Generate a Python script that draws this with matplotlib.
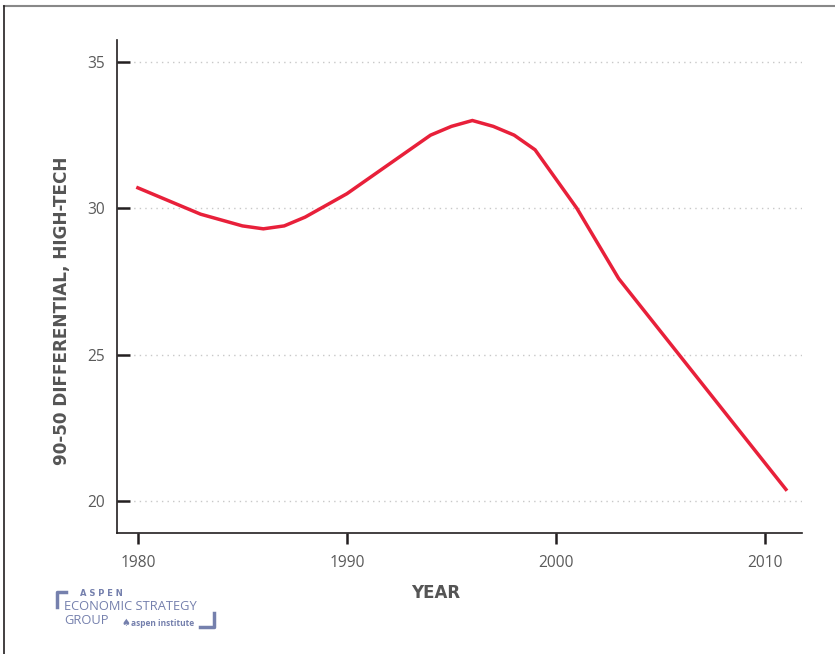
import matplotlib
matplotlib.use("Agg")
import matplotlib.pyplot as plt
from matplotlib.lines import Line2D

years = [1980, 1983, 1985, 1986, 1987, 1988, 1989, 1990, 1991, 1992, 1993, 1994,
         1995, 1996, 1997, 1998, 1999, 2000, 2001, 2003, 2011]
values = [30.7, 29.8, 29.4, 29.3, 29.4, 29.7, 30.1, 30.5, 31.0, 31.5, 32.0, 32.5,
          32.8, 33.0, 32.8, 32.5, 32.0, 31.0, 30.0, 27.6, 20.4]
x_ticks = [1980, 1990, 2000, 2010]
y_ticks = [20, 25, 30, 35]
x_label = "YEAR"
y_label = "90-50 DIFFERENTIAL, HIGH-TECH"

plt.rcParams['font.family'] = ['Open Sans', 'DejaVu Sans']

W, H = 835, 654
fig = plt.figure(figsize=(W / 100, H / 100), dpi=100)
ax = fig.add_axes([117 / W, 1 - 533 / H, (802 - 117) / W, (533 - 40) / H])

ax.plot(years, values, color="#e8203a", lw=2.5, solid_joinstyle="miter", zorder=3)

ax.set_xlim(1979.0, 2011.77)
ax.set_ylim(18.91, 35.75)
ax.set_xticks(x_ticks)
ax.set_yticks(y_ticks)
ax.yaxis.grid(True, color="#c8c8c8", linestyle=(0, (1, 3)), lw=1.0)
for s in ["top", "right"]:
    ax.spines[s].set_visible(False)
for s in ["left", "bottom"]:
    ax.spines[s].set_color("#231f20")
    ax.spines[s].set_linewidth(1.2)
ax.tick_params(axis="y", direction="in", length=9, width=1.8, color="#231f20",
               labelsize=11.2, labelcolor="#5a5a5a", pad=8.5)
ax.tick_params(axis="x", direction="out", length=8, width=1.8, color="#231f20",
               labelsize=11.2, labelcolor="#5a5a5a", pad=8)

fig.text(62 / W, 1 - 311 / H, y_label, rotation=90, ha="center", va="center",
         fontsize=12.2, fontweight="bold", color="#555555", family="DejaVu Sans")
fig.text(436 / W, 1 - 593 / H, x_label, ha="center", va="center",
         fontsize=12, fontweight="bold", color="#555555", family="DejaVu Sans")

# frame
fig.add_artist(Line2D([4 / W, 1], [1 - 6 / H, 1 - 6 / H], color="#888888", lw=1.5))
fig.add_artist(Line2D([4 / W, 4 / W], [0, 1 - 6 / H], color="#231f20", lw=1.2))

# logo
lc = "#7580ad"
fig.add_artist(Line2D([57 / W, 57 / W, 66 / W], [1 - 607 / H, 1 - 592 / H, 1 - 592 / H], color=lc, lw=2.5))
fig.add_artist(Line2D([200 / W, 214 / W, 214 / W], [1 - 627 / H, 1 - 627 / H, 1 - 613 / H], color=lc, lw=2.5))
fig.text(80 / W, 1 - 594 / H, "A S P E N", fontsize=6, fontweight="bold", color=lc, va="center",
         family="DejaVu Sans")
fig.text(64 / W, 1 - 606 / H, "ECONOMIC STRATEGY", fontsize=9.3, color=lc, va="center")
fig.text(64 / W, 1 - 621 / H, "GROUP", fontsize=9.3, color=lc, va="center")
fig.text(121 / W, 1 - 623 / H, "\u2660", fontsize=7, color=lc, va="center", family="DejaVu Sans")
fig.text(131 / W, 1 - 623 / H, "aspen institute", fontsize=6, color=lc, va="center", fontweight="bold")

fig.savefig("out.png", dpi=100, facecolor="white")
